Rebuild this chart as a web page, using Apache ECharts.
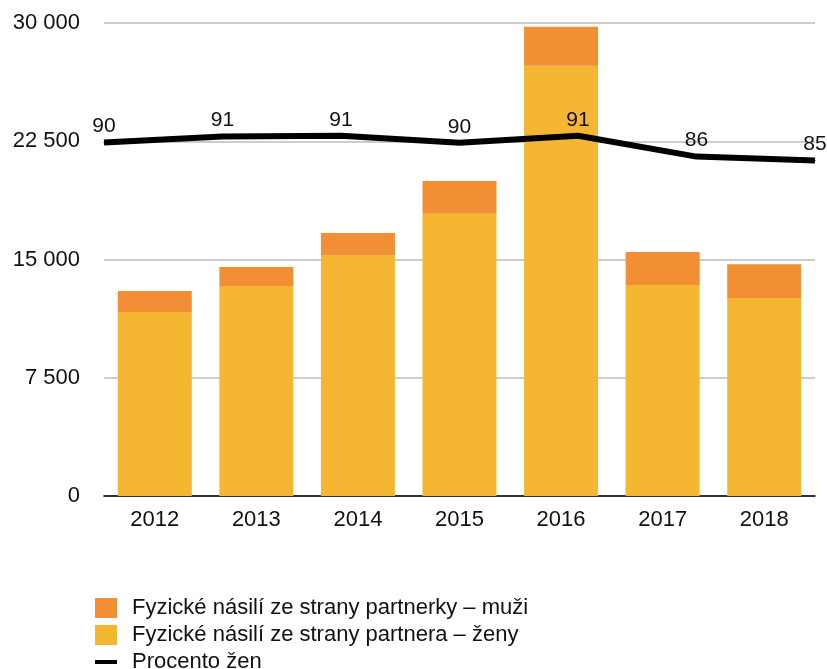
<!DOCTYPE html>
<html>
<head>
<meta charset="utf-8">
<script src="https://cdn.jsdelivr.net/npm/echarts@6/dist/echarts.min.js"></script>
<style>
  html, body { margin: 0; padding: 0; background: #fff; }
  #chart { width: 827px; height: 669px; }
</style>
</head>
<body>
<div id="chart"></div>
<script>
var years = ['2012', '2013', '2014', '2015', '2016', '2017', '2018'];
var zeny = [11670, 13320, 15250, 17900, 27290, 13380, 12560];
var muzi = [1330, 1200, 1430, 2080, 2470, 2090, 2140];
var procentoZen = [89.7, 91.2, 91.4, 89.6, 91.4, 86.1, 85.1];

var nameMuzi = 'Fyzické násilí ze strany partnerky – muži';
var nameZeny = 'Fyzické násilí ze strany partnera – ženy';
var nameProcento = 'Procento žen';

var font = '"Liberation Sans", Arial, sans-serif';

var chart = echarts.init(document.getElementById('chart'));

var option = {
  animation: false,
  textStyle: { fontFamily: font },
  grid: { left: 104, right: 12, top: 23, bottom: 173 },
  legend: {
    orient: 'vertical',
    left: 95,
    top: 597,
    height: 80,
    padding: 0,
    itemWidth: 22,
    itemHeight: 20,
    itemGap: 5,
    textStyle: {
      fontSize: 22,
      lineHeight: 20,
      color: '#111',
      fontFamily: font,
      padding: [0, 0, 0, 10]
    },
    data: [
      { name: nameMuzi, icon: 'rect' },
      { name: nameZeny, icon: 'rect' },
      { name: nameProcento, icon: 'path://M0,8h22v4h-22z' }
    ]
  },
  xAxis: [
    {
      type: 'category',
      data: years,
      axisLine: { lineStyle: { color: '#000', width: 1.5 } },
      axisTick: { show: false },
      axisLabel: { fontSize: 22, color: '#111', margin: 13 }
    },
    {
      type: 'category',
      data: years,
      boundaryGap: false,
      show: false
    }
  ],
  yAxis: [
    {
      type: 'value',
      min: 0,
      max: 30000,
      interval: 7500,
      axisLine: { show: false },
      axisTick: { show: false },
      splitLine: { lineStyle: { color: '#bdbdbd', width: 1.5 } },
      axisLabel: {
        fontSize: 22,
        color: '#111',
        margin: 24,
        formatter: function (v) {
          return String(v).replace(/\B(?=(\d{3})+(?!\d))/g, ' ');
        }
      }
    },
    {
      type: 'value',
      min: 0,
      max: 120,
      show: false
    }
  ],
  series: [
    {
      name: nameZeny,
      type: 'bar',
      stack: 'nasili',
      barWidth: 74,
      itemStyle: { color: '#F5B731' },
      data: zeny
    },
    {
      name: nameMuzi,
      type: 'bar',
      stack: 'nasili',
      barWidth: 74,
      itemStyle: { color: '#F28E33' },
      data: muzi
    },
    {
      name: nameProcento,
      type: 'line',
      xAxisIndex: 1,
      yAxisIndex: 1,
      symbol: 'circle',
      symbolSize: 1,
      showSymbol: true,
      lineStyle: { color: '#000', width: 6 },
      itemStyle: { color: '#000' },
      label: {
        show: true,
        position: 'top',
        distance: 5,
        fontSize: 21,
        color: '#111',
        formatter: function (p) { return String(Math.round(p.value)); }
      },
      z: 5,
      data: procentoZen
    }
  ]
};

chart.setOption(option);
</script>
</body>
</html>
